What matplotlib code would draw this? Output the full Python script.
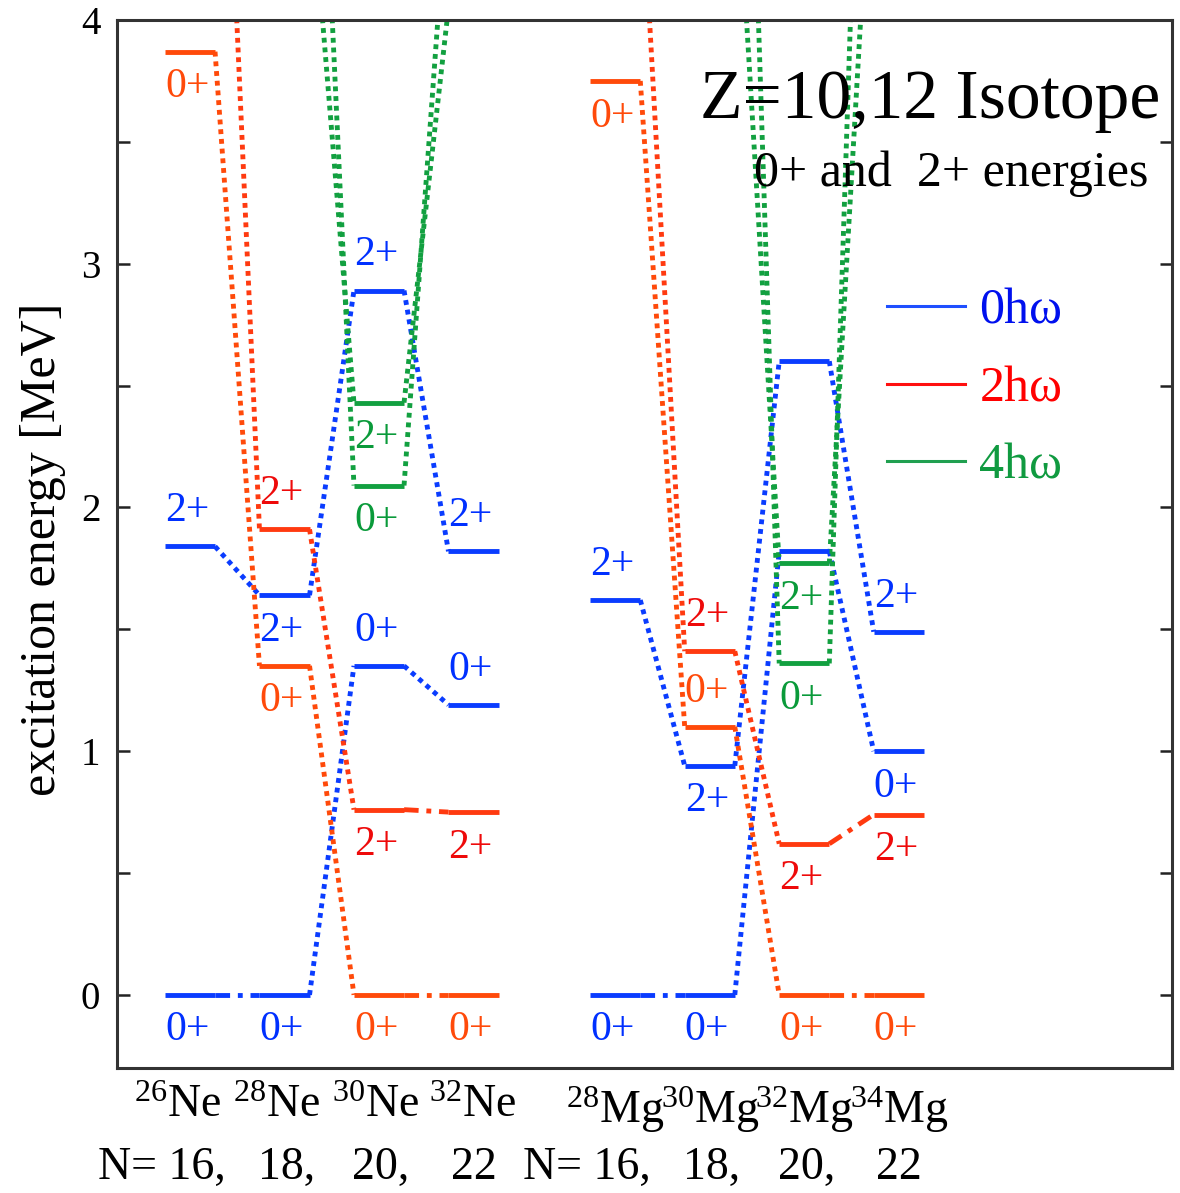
import numpy as np
import matplotlib
matplotlib.use("Agg")
import matplotlib.pyplot as plt
from matplotlib.lines import Line2D
from matplotlib.transforms import blended_transform_factory, ScaledTranslation

plt.rcParams['font.family'] = ['Liberation Serif', 'DejaVu Serif']
plt.rcParams['mathtext.fontset'] = 'custom'
plt.rcParams['mathtext.rm'] = 'Liberation Serif'
plt.rcParams['mathtext.it'] = 'Liberation Serif:italic'

nan = np.nan

# ---- isotope chains -------------------------------------------------------
ne_isotopes = [r"$^{26}$Ne", r"$^{28}$Ne", r"$^{30}$Ne", r"$^{32}$Ne"]
mg_isotopes = [r"$^{28}$Mg", r"$^{30}$Mg", r"$^{32}$Mg", r"$^{34}$Mg"]
neutron_numbers = [16, 18, 20, 22]
ne_slots = [0.0, 1.0, 2.0, 3.0]
mg_slots = [4.5, 5.5, 6.5, 7.5]

# ---- excitation energies [MeV]; values above 4 MeV run off the top -------
ne_0hw_0p = [0.00, 0.00, 1.35, 1.19]
ne_0hw_2p = [1.84, 1.64, 2.89, 1.82]
ne_2hw_0p = [3.87, 1.35, 0.00, 0.00]
ne_2hw_2p = [6.00, 1.91, 0.76, 0.75]
ne_4hw_0p = [nan, 6.00, 2.09, 4.60]
ne_4hw_2p = [nan, 4.65, 2.43, 4.05]

mg_0hw_0p = [0.00, 0.00, 1.82, 1.00]
mg_0hw_2p = [1.62, 0.94, 2.60, 1.49]
mg_2hw_0p = [3.75, 1.10, 0.00, 0.00]
mg_2hw_2p = [4.68, 1.41, 0.62, 0.74]
mg_4hw_0p = [nan, 7.00, 1.36, 6.90]
mg_4hw_2p = [nan, 4.80, 1.77, 4.93]

# ---- where the spin label of each level goes: a=above, b=below, ''=none --
ne_0hw_0p_lab = ['b', 'b', 'a', 'a']
ne_0hw_2p_lab = ['a', 'b', 'a', 'a']
ne_2hw_0p_lab = ['b', 'b', 'b', 'b']
ne_2hw_2p_lab = ['', 'a', 'b', 'b']
ne_4hw_0p_lab = ['', '', 'b', '']
ne_4hw_2p_lab = ['', '', 'b', '']

mg_0hw_0p_lab = ['b', 'b', '', 'b']
mg_0hw_2p_lab = ['a', 'b', '', 'a']
mg_2hw_0p_lab = ['b', 'a', 'b', 'b']
mg_2hw_2p_lab = ['', 'a', 'b', 'b']
mg_4hw_0p_lab = ['', '', 'b', '']
mg_4hw_2p_lab = ['', '', 'b', '']

config_names = ['0h\u03c9', '2h\u03c9', '4h\u03c9']

# ---- colours ---------------------------------------------------------------
BLUE = '#0a3cff'
BLUE_TXT = '#0030ff'
ORANGE = '#ff4a0a'
ORANGE2 = '#ff3a10'
RED_TXT = '#ee0a0a'
GREEN = '#12a040'
GREEN_TXT = '#0a9a3a'
LEG_COLORS = ['#1f4fff', '#ff1010', '#20a050']
LEG_TXT = ['#0010ee', '#ff0000', '#109a40']

# (energies, label positions, slots, spin text, line colour, label colour)
series = [
    (ne_0hw_0p, ne_0hw_0p_lab, ne_slots, '0+', BLUE, BLUE_TXT),
    (ne_0hw_2p, ne_0hw_2p_lab, ne_slots, '2+', BLUE, BLUE_TXT),
    (ne_2hw_0p, ne_2hw_0p_lab, ne_slots, '0+', ORANGE, ORANGE),
    (ne_2hw_2p, ne_2hw_2p_lab, ne_slots, '2+', ORANGE2, RED_TXT),
    (ne_4hw_0p, ne_4hw_0p_lab, ne_slots, '0+', GREEN, GREEN_TXT),
    (ne_4hw_2p, ne_4hw_2p_lab, ne_slots, '2+', GREEN, GREEN_TXT),
    (mg_0hw_0p, mg_0hw_0p_lab, mg_slots, '0+', BLUE, BLUE_TXT),
    (mg_0hw_2p, mg_0hw_2p_lab, mg_slots, '2+', BLUE, BLUE_TXT),
    (mg_2hw_0p, mg_2hw_0p_lab, mg_slots, '0+', ORANGE, ORANGE),
    (mg_2hw_2p, mg_2hw_2p_lab, mg_slots, '2+', ORANGE2, RED_TXT),
    (mg_4hw_0p, mg_4hw_0p_lab, mg_slots, '0+', GREEN, GREEN_TXT),
    (mg_4hw_2p, mg_4hw_2p_lab, mg_slots, '2+', GREEN, GREEN_TXT),
]

HALF = 0.265          # half width of a level bar (in slot units)
LW = 3.5
LABEL_OFF = 0.145     # MeV between a level and its spin label

fig = plt.figure(figsize=(11.8, 11.93), dpi=100)
fig.patch.set_facecolor('white')
ax = fig.add_axes([117 / 1180, 1 - 1068 / 1193, (1172 - 117) / 1180, (1068 - 20) / 1193])

for energies, labs, slots, spin, col, tcol in series:
    e = np.asarray(energies, dtype=float)
    x = np.asarray(slots, dtype=float)
    # level bars
    ok = np.isfinite(e)
    ax.hlines(e[ok], x[ok] - HALF, x[ok] + HALF, colors=col, lw=LW, zorder=3)
    # connectors between neighbouring isotopes
    for i in range(len(e) - 1):
        if not (np.isfinite(e[i]) and np.isfinite(e[i + 1])):
            continue
        steep = abs(e[i + 1] - e[i]) > 0.13
        ls = (0, (1, 1)) if steep else (0, (3, 1.6, 1, 1.6))
        ax.plot([x[i] + HALF, x[i + 1] - HALF], [e[i], e[i + 1]],
                color=col, lw=LW, linestyle=ls, zorder=2)
    # spin labels
    for xi, ei, pos in zip(x, e, labs):
        if not pos:
            continue
        dy = LABEL_OFF if pos == 'a' else -LABEL_OFF
        ax.text(xi - 0.03, ei + dy, spin, color=tcol, fontsize=30,
                ha='center', va='center', zorder=4)

# ---- axes ------------------------------------------------------------------
ax.set_yticks([0, 1, 2, 3, 4])
ax.set_yticks(np.arange(0.5, 4.0, 0.5), minor=True)
ax.set_xticks(ne_slots + mg_slots)
ax.set_xticklabels(ne_isotopes + mg_isotopes, fontsize=33)
ax.set_xlim((117 - 190) / 94.5, (1172 - 190) / 94.5)
ax.set_ylim(-0.3, 4.0)
ax.tick_params(axis='y', which='both', direction='in', length=9, width=1.8,
               left=True, right=True, labelsize=28, pad=12, color='#222222')
ax.tick_params(axis='x', length=0, pad=12)
# the neon names sit a little left of their columns
name_shift_px = [-12, -8, -3, -1, 0, 0, 0, 0]
for lbl, dx in zip(ax.get_xticklabels(), name_shift_px):
    lbl.set_transform(lbl.get_transform() + ScaledTranslation(dx / 100, 0, fig.dpi_scale_trans))
for sp in ax.spines.values():
    sp.set_linewidth(2.2)
    sp.set_color('#333333')

ax.set_ylabel('excitation energy [MeV]', fontsize=36)
ax.yaxis.set_label_coords(-0.048, 0.495)

# neutron numbers under the isotope names
trans = blended_transform_factory(ax.transData, ax.transAxes)
for slots in (ne_slots, mg_slots):
    for i, (s, n) in enumerate(zip(slots, neutron_numbers)):
        if i == 0:
            ax.text(s + 0.38, -0.0954, f"N= {n},", transform=trans, fontsize=33,
                    ha='right', va='center')
        elif i == len(slots) - 1:
            ax.text(s, -0.0954, f"{n}", transform=trans, fontsize=33,
                    ha='center', va='center')
        else:
            ax.text(s + 0.02, -0.0954, f"{n},", transform=trans, fontsize=33,
                    ha='center', va='center')

# ---- title -------------------------------------------------------------------
ax.text(0.9886, 0.9065, 'Z=10,12 Isotope', transform=ax.transAxes, fontsize=50,
        ha='right', va='baseline', zorder=5)
ax.text(0.9773, 0.8416, '0+ and  2+ energies', transform=ax.transAxes, fontsize=36,
        ha='right', va='baseline', zorder=5)

# ---- legend --------------------------------------------------------------------
handles = [Line2D([], [], color=c, lw=2.2) for c in LEG_COLORS]
ax.legend(handles, config_names, loc='upper left',
          bbox_to_anchor=((887 - 117) / 1055, (1068 - 288) / 1048),
          frameon=False, fontsize=36, handlelength=1.55, handletextpad=0.3,
          labelspacing=0.62, borderpad=0, borderaxespad=0, labelcolor=LEG_TXT)

fig.savefig('out.png', dpi=100, facecolor='white')
